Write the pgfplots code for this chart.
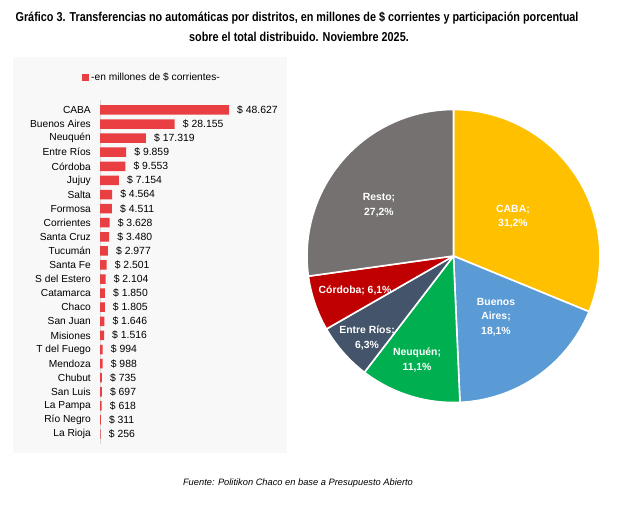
\documentclass[border=0pt]{standalone}
\usepackage{fontspec}
\setmainfont{Liberation Sans}
\newfontfamily\titlefont{Liberation Sans}[FakeStretch=0.84]
\usepackage{pgfplots}
\usepackage{pgfplotstable}
\pgfplotsset{compat=1.18}

\definecolor{barred}{RGB}{234,63,66}
\definecolor{pCABA}{RGB}{255,192,0}
\definecolor{pBA}{RGB}{91,155,213}
\definecolor{pNeu}{RGB}{0,176,80}
\definecolor{pER}{RGB}{68,84,106}
\definecolor{pCor}{RGB}{192,0,0}
\definecolor{pResto}{RGB}{118,113,113}
\definecolor{panel}{RGB}{248,248,248}

% Transferencias no automaticas, millones de $ corrientes (orden del grafico)
\pgfplotstableread[col sep=comma]{
idx,monto
0,48627
1,28155
2,17319
3,9859
4,9553
5,7154
6,4564
7,4511
8,3628
9,3480
10,2977
11,2501
12,2104
13,1850
14,1805
15,1646
16,1516
17,994
18,988
19,735
20,697
21,618
22,311
23,256
}\transf

% Participacion porcentual sobre el total distribuido
\def\pCABA{31.2}
\def\pBA{18.1}
\def\pNeu{11.1}
\def\pER{6.3}
\def\pCor{6.1}
\def\pResto{27.2}

\begin{document}
\begin{tikzpicture}[x=1pt,y=1pt]
\useasboundingbox (0,0) rectangle (621,507);

% titulo
\node[anchor=base,font=\titlefont\bfseries\fontsize{12.9}{15}\selectfont] at (297,485)
  {Gráfico 3. Transferencias no automáticas por distritos, en millones de \$ corrientes y participación porcentual};
\node[anchor=base,font=\titlefont\bfseries\fontsize{12.9}{15}\selectfont] at (299,465)
  {sobre el total distribuido. Noviembre 2025.};

% panel de fondo de las barras
\fill[panel] (13,54) rectangle (287,450);

% barras horizontales
\begin{axis}[
  at={(100pt,63.1pt)}, anchor=south west,
  scale only axis, width=159.2pt, height=343.8pt,
  xbar, bar width=9.5pt,
  xmin=0, xmax=60000,
  ymin=-0.7, ymax=23.7, y dir=reverse,
  enlargelimits=false, clip=false,
  ytick={0,...,23},
  yticklabels={CABA,Buenos Aires,Neuquén,Entre Ríos,Córdoba,Jujuy,Salta,Formosa,Corrientes,Santa Cruz,Tucumán,Santa Fe,S del Estero,Catamarca,Chaco,San Juan,Misiones,T del Fuego,Mendoza,Chubut,San Luis,La Pampa,Río Negro,La Rioja},
  xtick=\empty,
  axis x line=none,
  axis y line*=left,
  y axis line style={draw=black!15, line width=0.7pt},
  major tick length=0pt,
  yticklabel style={font=\fontsize{10.2}{12}\selectfont, inner sep=0pt, xshift=-9pt},
  point meta=x,
  nodes near coords={\$ \pgfmathprintnumber{\pgfplotspointmeta}},
  nodes near coords style={anchor=west, inner sep=0pt, xshift=8pt, font=\fontsize{10.4}{12}\selectfont},
  /pgf/number format/fixed,
  /pgf/number format/1000 sep={.},
  /pgf/number format/assume math mode=true,
  legend style={at={(-0.113,1.067)}, anchor=west, draw=none, fill=none,
    font=\fontsize{10.2}{12}\selectfont, inner sep=0pt},
  legend image code/.code={\fill[barred] (0pt,-3.5pt) rectangle (7pt,3.5pt);},
]
\addplot[fill=barred, draw=none] table[x=monto, y=idx] {\transf};
\addlegendentry{-en millones de \$ corrientes-}
\end{axis}

% torta de participacion
\pgfmathsetmacro{\aA}{90}
\pgfmathsetmacro{\aB}{\aA-3.6*\pCABA}
\pgfmathsetmacro{\aC}{\aB-3.6*\pBA}
\pgfmathsetmacro{\aD}{\aC-3.6*\pNeu}
\pgfmathsetmacro{\aE}{\aD-3.6*\pER}
\pgfmathsetmacro{\aF}{\aE-3.6*\pCor}
\pgfmathsetmacro{\aG}{\aF-3.6*\pResto}
\begin{axis}[
  at={(453.5pt,251pt)}, anchor=center,
  scale only axis, width=293pt, height=293pt,
  xmin=-1, xmax=1, ymin=-1, ymax=1,
  hide axis, clip=false,
  every axis plot/.append style={draw=white, line width=1.6pt, samples=60, variable=\t, line join=round},
]
\addplot[fill=pCABA, domain=\aB:\aA] ({cos(\t)},{sin(\t)}) -- (axis cs:0,0) -- cycle;
\addplot[fill=pBA, domain=\aC:\aB] ({cos(\t)},{sin(\t)}) -- (axis cs:0,0) -- cycle;
\addplot[fill=pNeu, domain=\aD:\aC] ({cos(\t)},{sin(\t)}) -- (axis cs:0,0) -- cycle;
\addplot[fill=pER, domain=\aE:\aD] ({cos(\t)},{sin(\t)}) -- (axis cs:0,0) -- cycle;
\addplot[fill=pCor, domain=\aF:\aE] ({cos(\t)},{sin(\t)}) -- (axis cs:0,0) -- cycle;
\addplot[fill=pResto, domain=\aG:\aF] ({cos(\t)},{sin(\t)}) -- (axis cs:0,0) -- cycle;

\begin{scope}[every node/.style={align=center, text=white, font=\bfseries\fontsize{10.4}{14.5}\selectfont}]
\node at (axis cs:-0.509,0.345) {Resto;\\27,2\%};
\node at (axis cs:0.406,0.27) {CABA;\\31,2\%};
\node at (axis cs:0.290,-0.415) {Buenos\\Aires;\\18,1\%};
\node at (axis cs:-0.249,-0.71) {Neuquén;\\11,1\%};
\node at (axis cs:-0.590,-0.558) {Entre Ríos;\\6,3\%};
\node at (axis cs:-0.672,-0.235) {Córdoba; 6,1\%};
\end{scope}
\end{axis}

% fuente
\node[anchor=base, font=\itshape\fontsize{9.3}{11}\selectfont] at (298,22) {Fuente: Politikon Chaco en base a Presupuesto Abierto};
\end{tikzpicture}
\end{document}
